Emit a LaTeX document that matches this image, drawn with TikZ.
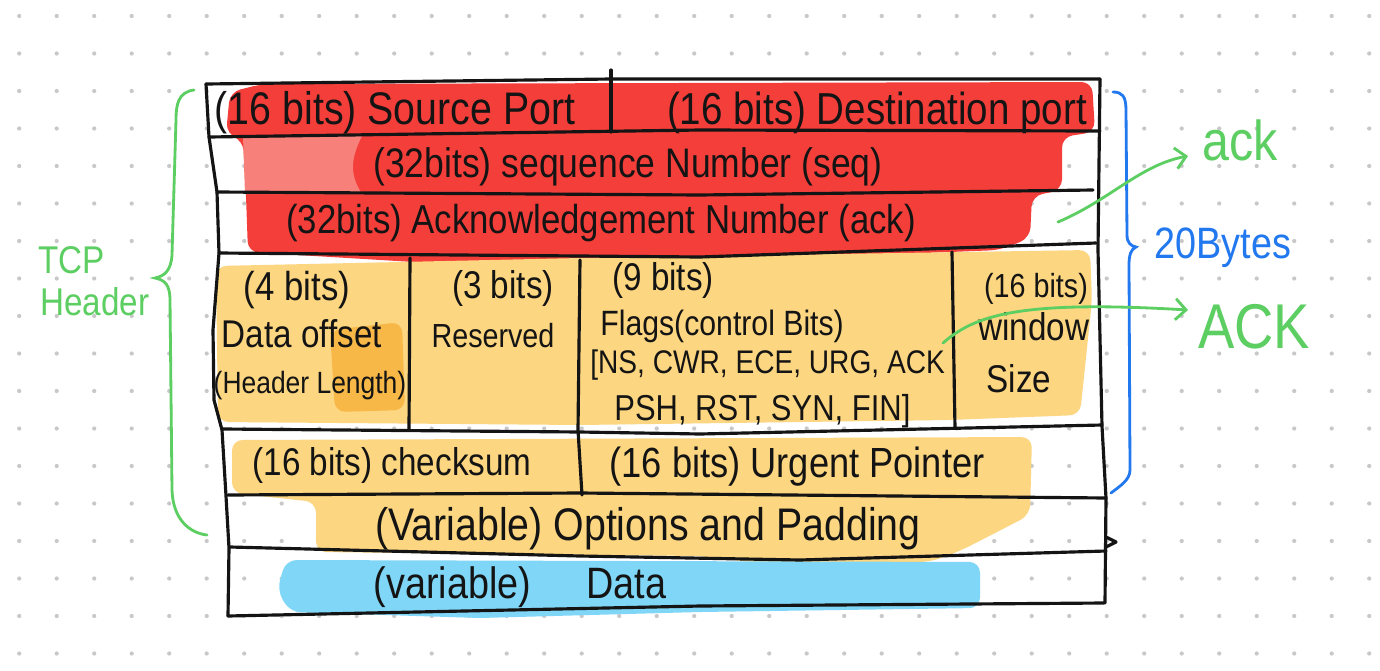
\documentclass[tikz,border=0pt]{standalone}
\usepackage{fontspec}
\usepackage{tikz}
\usetikzlibrary{arrows.meta}
\newfontfamily\handfont[FakeStretch=0.86]{Liberation Sans}
\newcommand\hand[1]{\handfont\fontsize{#1}{#1}\selectfont}
\definecolor{markred}{RGB}{243,62,58}
\definecolor{markpink}{RGB}{247,128,122}
\definecolor{markyellow}{RGB}{252,214,128}
\definecolor{markorange}{RGB}{247,184,72}
\definecolor{markblue}{RGB}{128,214,246}
\definecolor{penblack}{RGB}{20,20,20}
\definecolor{pengreen}{RGB}{92,206,98}
\definecolor{penblue}{RGB}{34,120,238}
\definecolor{dotgray}{RGB}{200,200,200}

\begin{document}
\begin{tikzpicture}[x=0.02cm,y=-0.02cm,
  pen/.style={draw=penblack,line width=1.8pt,line cap=round,line join=round},
  txt/.style={inner sep=0,anchor=base,text=penblack},
  marker/.style={rounded corners=6pt},
  greenpen/.style={draw=pengreen,line width=1.6pt,line cap=round},
  greenarrow/.style={greenpen,-{Straight Barb[length=6pt,width=12pt,line width=1.6pt]}}]
\useasboundingbox (0,0) rectangle (1380,670);
\fill[white] (0,0) rectangle (1380,670);
\foreach \i in {0,...,36} \foreach \j in {0,...,17} \fill[dotgray] (19.2+37.5*\i,16+37.5*\j) circle (1.2pt);
\fill[markred,marker] (230,92) -- (262,84) -- (1092,82) -- (1095,132) -- (1062,137) -- (1062,190) -- (1032,196) -- (1030,238) -- (1000,250) -- (700,262) -- (480,266) -- (248,252) -- (246,196) -- (243,140) -- (226,134) -- cycle;
\fill[markpink] (243,136) -- (362,136) .. controls (350,160) and (350,175) .. (362,194) -- (245,194) -- cycle;
\fill[markyellow,marker] (216,266) -- (400,262) -- (580,258) -- (1090,250) -- (1092,300) -- (1080,415) -- (950,420) -- (580,425) -- (218,422) -- cycle;
\fill[markorange,marker] (330,330) -- (402,322) -- (405,410) -- (335,412) -- cycle;
\fill[markyellow,marker] (232,440) -- (1032,437) -- (1030,515) -- (962,550) -- (930,562) -- (750,562) -- (700,556) -- (316,552) -- (316,502) -- (232,493) -- cycle;
\fill[markblue,marker] (286,560) -- (980,562) -- (980,608) -- (700,612) -- (480,618) -- (290,612) -- (277,590) -- cycle;
\draw[pen] (206,84) -- (611,79) -- (1100,79);
\draw[pen] (611,70) -- (611,132);
\draw[pen] (209,137) -- (700,130) -- (1100,131);
\draw[pen] (217,192) -- (700,195) -- (1093,190);
\draw[pen] (219,253) -- (700,257) -- (1096,243);
\draw[pen] (223,429) -- (580,432) -- (700,434) -- (1102,425);
\draw[pen] (228,495) -- (580,493) -- (1106,498);
\draw[pen] (230,547) -- (580,556) -- (800,560) -- (1106,551);
\draw[pen] (228,616) -- (700,606) -- (1104,603);
\draw[pen] (206,84) -- (209,137) -- (217,192) -- (219,253) -- (213,330) -- (214,400) -- (222,430) -- (226,496) -- (229,548) -- (228,616);
\draw[pen] (1100,79) -- (1098,250) -- (1102,426) -- (1106,498) -- (1105,603);
\draw[pen] (410,258) -- (409,430);
\draw[pen] (580,260) -- (578,430) -- (582,495);
\draw[pen] (952,252) -- (955,428);
\draw[pen] (1106,537) -- (1116,542) -- (1106,547);
\draw[greenpen] (194,90) .. controls (178,92) and (176,105) .. (176,120) -- (172,255) .. controls (171,270) and (165,276) .. (155,278) .. controls (165,280) and (170,285) .. (170,300) -- (172,490) .. controls (173,520) and (190,533) .. (207,535);
\draw[draw=penblue,line width=1.6pt,line cap=round] (1113,92) .. controls (1122,92) and (1126,96) .. (1126,110) -- (1127,235) .. controls (1127,243) and (1131,246) .. (1136,247) .. controls (1131,249) and (1129,255) .. (1129,265) -- (1130,470) .. controls (1130,480) and (1120,486) .. (1111,493);
\node[txt,font=\hand{26}] (srcport) at (395,124) {(16 bits) Source Port};
\node[txt,font=\hand{25.5}] (dstport) at (877,124) {(16 bits) Destination port};
\node[txt,font=\hand{23.5}] (seqnum) at (628,177) {(32bits) sequence Number (seq)};
\node[txt,font=\hand{23}] (acknum) at (601,233) {(32bits) Acknowledgement Number (ack)};
\node[txt,font=\hand{23}] (dofs1) at (297,300) {(4 bits)};
\node[txt,font=\hand{22}] (dofs2) at (302,347) {Data offset};
\node[txt,font=\hand{17.5}] (dofs3) at (310,393) {(Header Length)};
\node[txt,font=\hand{22}] (rsv1) at (503,298) {(3 bits)};
\node[txt,font=\hand{19}] (rsv2) at (493,347) {Reserved};
\node[txt,anchor=base west,font=\hand{22}] (flg1) at (612,290) {(9 bits)};
\node[txt,anchor=base west,font=\hand{20}] (flg2) at (600,335) {Flags(control Bits)};
\node[txt,anchor=base west,font=\hand{18.6}] (flg3) at (590,373) {[NS, CWR, ECE, URG, ACK};
\node[txt,anchor=base west,font=\hand{20.5}] (flg4) at (614,420) {PSH, RST, SYN, FIN]};
\node[txt,font=\hand{19}] (win1) at (1036,297) {(16 bits)};
\node[txt,font=\hand{22}] (win2) at (1034,340) {window};
\node[txt,font=\hand{22}] (win3) at (1019,392) {Size};
\node[txt,font=\hand{22}] (chksum) at (392,475) {(16 bits) checksum};
\node[txt,font=\hand{24}] (urgptr) at (797,477) {(16 bits) Urgent Pointer};
\node[txt,font=\hand{26}] (options) at (648,540) {(Variable) Options and Padding};
\node[txt,font=\hand{25}] (data) at (520,598) {(variable)\hspace{1.1cm}Data};
\node[txt,anchor=base west,text=pengreen,font=\hand{22}] (tcphdr1) at (38,273) {TCP};
\node[txt,anchor=base west,text=pengreen,font=\hand{22}] (tcphdr2) at (40,315) {Header};
\node[txt,text=penblue,font=\hand{25}] (bytes) at (1223,258) {20Bytes};
\node[txt,anchor=base west,text=pengreen,font=\hand{32}] (ackl) at (1202,160) {ack};
\node[txt,anchor=base west,text=pengreen,font=\hand{36}] (ACKl) at (1198,348) {ACK};
\coordinate (seqack) at (1058,222);
\coordinate (winack) at (943,343);
\draw[greenarrow] (seqack) .. controls (1110,200) and (1140,165) .. ([shift={(-14,-4)}]ackl.base west);
\draw[greenarrow] (winack) .. controls (975,315) and (1020,300) .. ([shift={(-10,-38)}]ACKl.base west);
\end{tikzpicture}
\end{document}
